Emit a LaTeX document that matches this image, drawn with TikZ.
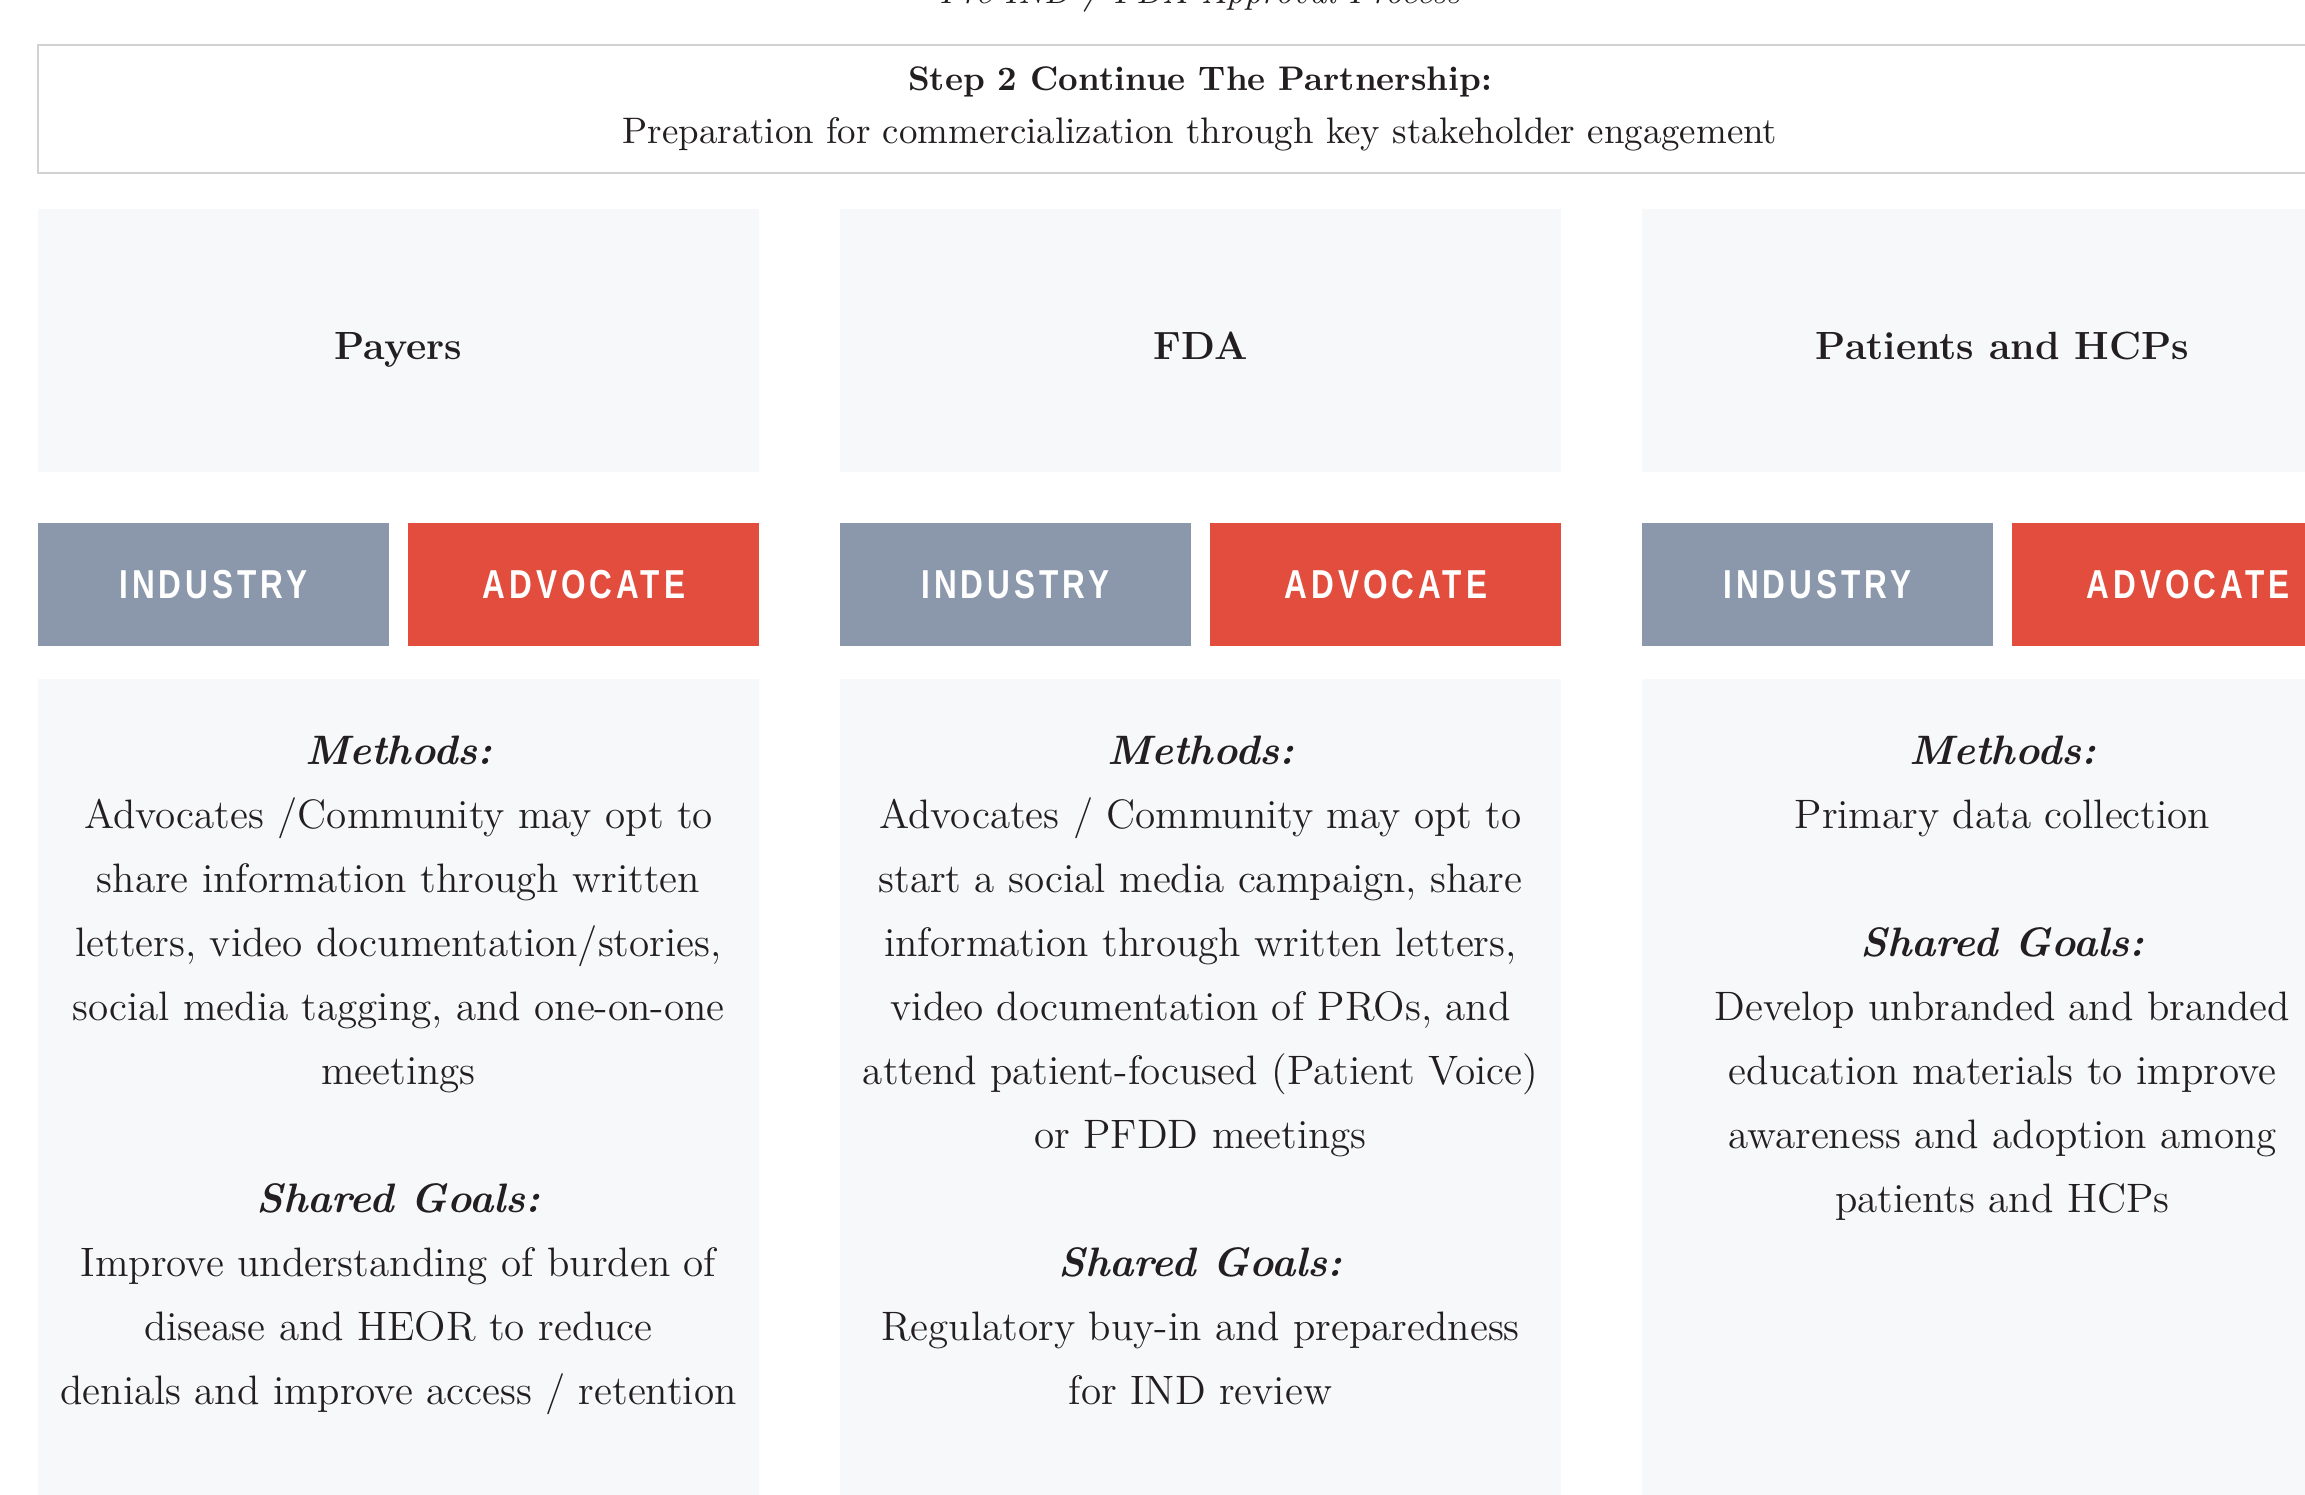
\documentclass[tikz,border=0pt]{standalone}
\usepackage{fontspec}
\usepackage{xcolor}
\usepackage{tikz}
\usetikzlibrary{positioning}
\newfontfamily\btnfont{Liberation Sans}[FakeStretch=0.78,LetterSpace=10]
\definecolor{boxfill}{HTML}{F7F8FA}
\definecolor{indgray}{HTML}{8B98AB}
\definecolor{advred}{HTML}{E24D3D}
\definecolor{rulegray}{HTML}{D2D2D2}
\definecolor{inkdark}{HTML}{231F20}

\begin{document}
\begin{tikzpicture}[node distance=8.02cm,
  headbox/.style={draw=rulegray,line width=0.6pt,minimum width=23.24cm,minimum height=1.28cm,align=center,text=inkdark},
  titlebox/.style={fill=boxfill,minimum width=7.21cm,minimum height=2.63cm,text height=12pt,text depth=1pt,text=inkdark,font=\fontsize{11.2}{13}\selectfont\bfseries},
  btn/.style={minimum width=3.51cm,minimum height=1.23cm,inner sep=0pt,text=white,font=\btnfont\fontsize{11.5}{12}\selectfont\bfseries},
  indbtn/.style={btn,fill=indgray},
  advbtn/.style={btn,fill=advred},
  bodybox/.style={fill=boxfill,minimum width=7.21cm,minimum height=9cm},
  bodytext/.style={align=center,inner sep=0pt,text=inkdark,font=\fontsize{11.7}{18.2}\selectfont}]
  \useasboundingbox (0,0) rectangle (23.05,-14.95);
  \node[anchor=base,text=inkdark,font=\fontsize{10}{12}\selectfont\itshape] (proc) at (12,-0.03) {Pre IND / FDA Approval Process};
  \node[headbox] (step) at (12,-1.09) {\fontsize{9.7}{14}\selectfont\textbf{Step 2 Continue The Partnership:}\\[3pt]
    \fontsize{10.5}{14}\selectfont Preparation for commercialization through key stakeholder engagement};

  \node[titlebox] (payers) at (3.985,-3.405) {Payers};
  \node[titlebox] (fda) [right of=payers] {FDA};
  \node[titlebox] (hcps) [right of=fda] {Patients and HCPs};

  \node[indbtn,below right=0.5cm and 0cm of payers.south west] (payind) {INDUSTRY};
  \node[advbtn,right=0.18cm of payind] (payadv) {ADVOCATE};
  \node[indbtn,below right=0.5cm and 0cm of fda.south west] (fdaind) {INDUSTRY};
  \node[advbtn,right=0.18cm of fdaind] (fdaadv) {ADVOCATE};
  \node[indbtn,below right=0.5cm and 0cm of hcps.south west] (hcpind) {INDUSTRY};
  \node[advbtn,right=0.18cm of hcpind] (hcpadv) {ADVOCATE};

  \node[bodybox,below right=0.31cm and 0cm of payind.south west] (paybody) {};
  \node[bodybox,below right=0.31cm and 0cm of fdaind.south west] (fdabody) {};
  \node[bodybox,below right=0.31cm and 0cm of hcpind.south west] (hcpbody) {};

  \node[bodytext,below=0.57cm of paybody.north] (paytext) {\textbf{\textit{Methods:}}\\
    Advocates /Community may opt to\\ share information through written\\ letters, video documentation/stories,\\
    social media tagging, and one-on-one\\ meetings\\[18.2pt]
    \textbf{\textit{Shared Goals:}}\\ Improve understanding of burden of\\ disease and HEOR to reduce\\
    denials and improve access / retention};
  \node[bodytext,below=0.57cm of fdabody.north] (fdatext) {\textbf{\textit{Methods:}}\\
    Advocates / Community may opt to\\ start a social media campaign, share\\ information through written letters,\\
    video documentation of PROs, and\\ attend patient-focused (Patient Voice)\\ or PFDD meetings\\[18.2pt]
    \textbf{\textit{Shared Goals:}}\\ Regulatory buy-in and preparedness\\ for IND review};
  \node[bodytext,below=0.57cm of hcpbody.north] (hcptext) {\textbf{\textit{Methods:}}\\
    Primary data collection\\[18.2pt]
    \textbf{\textit{Shared Goals:}}\\ Develop unbranded and branded\\ education materials to improve\\
    awareness and adoption among\\ patients and HCPs};
\end{tikzpicture}
\end{document}
